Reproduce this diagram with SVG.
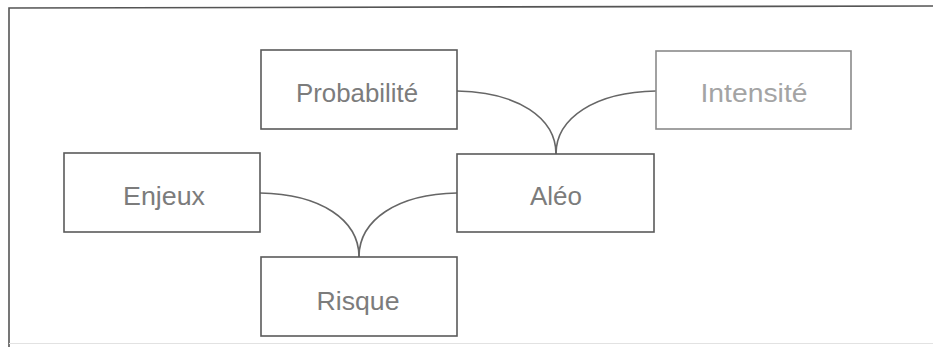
<svg xmlns="http://www.w3.org/2000/svg" width="933" height="347" viewBox="0 0 933 347">
  <style>
    .box { fill: none; stroke: #5a5a5a; stroke-width: 1.6; }
    .box.light { stroke: #8a8a8a; }
    .label { font-family: "Liberation Sans", Arial, sans-serif; font-size: 26px; fill: #7c7c7c; text-anchor: middle; }
    .label.light { fill: #a4a4a4; }
    .link { fill: none; stroke: #666; stroke-width: 1.6; }
    .frame { fill: none; stroke: #555; stroke-width: 1.6; }
  </style>
  <rect width="933" height="347" fill="#ffffff"/>

  <!-- outer frame: top and left edges, faint bottom -->
  <path class="frame" d="M933,6 L9,8 L9,347"/>
  <line x1="9" y1="343.5" x2="933" y2="343.5" stroke="#e2e2e2" stroke-width="1.2"/>

  <!-- connectors -->
  <g id="connectors">
    <path class="link" d="M457,91 C518,92 556,118 556,154"/>
    <path class="link" d="M656,91 C595,92 556,118 556,154"/>
    <path class="link" d="M260,193 C321,194 359,220 359,257"/>
    <path class="link" d="M457,193 C397,194 359,220 359,257"/>
  </g>

  <g id="probabilite">
    <rect class="box" x="261" y="50" width="196" height="79"/>
    <text class="label" x="357" y="102" textLength="122" lengthAdjust="spacingAndGlyphs">Probabilité</text>
  </g>

  <g id="intensite">
    <rect class="box light" x="656" y="51" width="195" height="78"/>
    <text class="label light" x="754" y="102" textLength="107" lengthAdjust="spacingAndGlyphs">Intensité</text>
  </g>

  <g id="aleo">
    <rect class="box" x="457" y="154" width="197" height="78"/>
    <text class="label" x="556" y="205" textLength="52" lengthAdjust="spacingAndGlyphs">Aléo</text>
  </g>

  <g id="enjeux">
    <rect class="box" x="64" y="153" width="196" height="79"/>
    <text class="label" x="164" y="205" textLength="82" lengthAdjust="spacingAndGlyphs">Enjeux</text>
  </g>

  <g id="risque">
    <rect class="box" x="261" y="257" width="196" height="79"/>
    <text class="label" x="358" y="310" textLength="83" lengthAdjust="spacingAndGlyphs">Risque</text>
  </g>
</svg>
